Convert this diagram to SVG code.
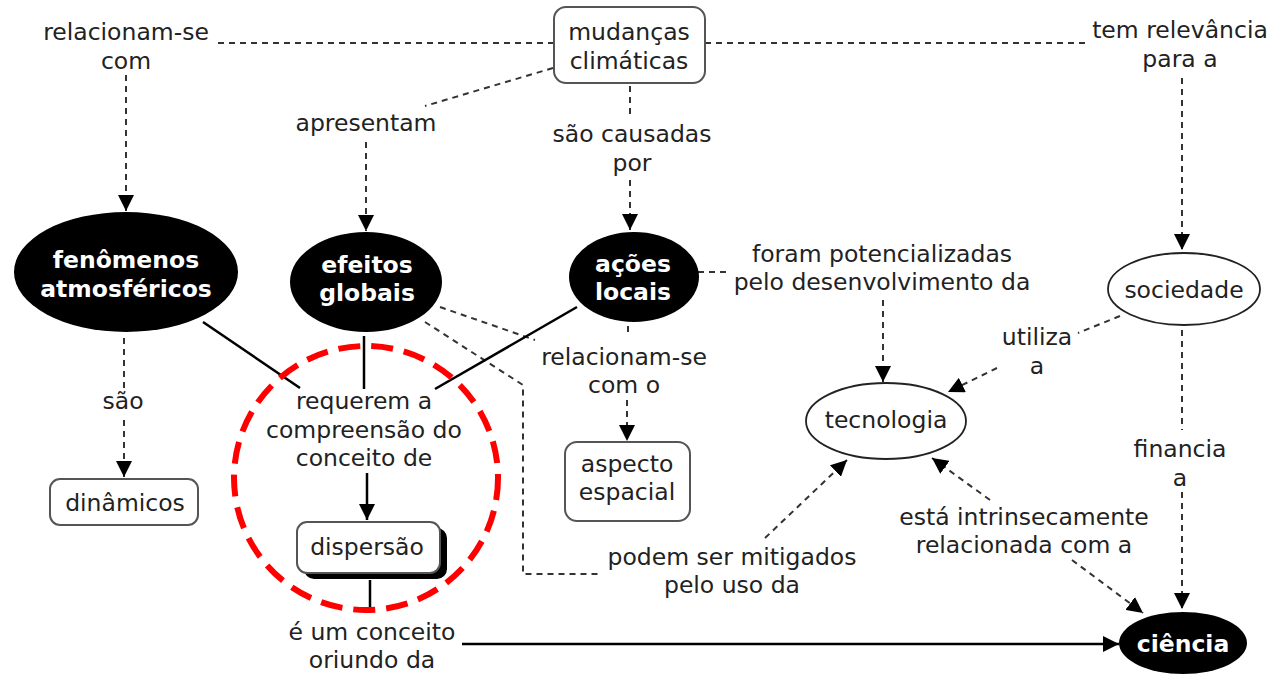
<svg xmlns="http://www.w3.org/2000/svg" width="1281" height="675" viewBox="0 0 1281 675">
<defs>
<marker id="ah" viewBox="0 0 16 16" refX="16" refY="8" markerWidth="16" markerHeight="16" markerUnits="userSpaceOnUse" orient="auto">
<path d="M0,0 L16,8 L0,16 z" fill="#000"/>
</marker>
</defs>
<style>
text{font-family:"DejaVu Sans","Verdana",sans-serif;font-size:23.5px;fill:#222;text-anchor:middle}
.b{font-weight:bold;fill:#fff}
.dash{fill:none;stroke:#333;stroke-width:2;stroke-dasharray:6 5}
.solid{fill:none;stroke:#000;stroke-width:2.5}
.box{fill:#fff;stroke:#555;stroke-width:2}
.dark{fill:#000;stroke:none}
.light{fill:#fff;stroke:#222;stroke-width:1.8}
</style>
<rect width="1281" height="675" fill="#fff"/>
<g id="connectors">
<line class="dash" x1="554" y1="43" x2="218" y2="43"/>
<line class="dash" x1="126" y1="75" x2="126" y2="211" marker-end="url(#ah)"/>
<line class="dash" x1="553" y1="68" x2="425" y2="106"/>
<line class="dash" x1="366" y1="142" x2="366" y2="231" marker-end="url(#ah)"/>
<line class="dash" x1="630" y1="86" x2="630" y2="116"/>
<line class="dash" x1="630" y1="180" x2="630" y2="230" marker-end="url(#ah)"/>
<line class="dash" x1="705" y1="43" x2="1086" y2="43"/>
<line class="dash" x1="1182" y1="78" x2="1182" y2="250" marker-end="url(#ah)"/>
<line class="dash" x1="698" y1="272" x2="728" y2="272"/>
<line class="dash" x1="883" y1="300" x2="883" y2="382" marker-end="url(#ah)"/>
<line class="dash" x1="1120" y1="316" x2="1078" y2="333"/>
<line class="dash" x1="997" y1="368" x2="948" y2="392" marker-end="url(#ah)"/>
<line class="dash" x1="1182" y1="330" x2="1182" y2="430"/>
<line class="dash" x1="1182" y1="492" x2="1182" y2="609" marker-end="url(#ah)"/>
<line class="dash" x1="628" y1="326" x2="628" y2="337"/>
<line class="dash" x1="440" y1="307" x2="535" y2="340"/>
<line class="dash" x1="627" y1="400" x2="627" y2="441" marker-end="url(#ah)"/>
<line class="dash" x1="124" y1="338" x2="124" y2="388"/>
<line class="dash" x1="124" y1="420" x2="124" y2="477" marker-end="url(#ah)"/>
<polyline class="dash" points="425,322 523,385 523,574 598,574"/>
<line class="dash" x1="765" y1="538" x2="847" y2="460" marker-end="url(#ah)"/>
<line class="dash" x1="990" y1="500" x2="932" y2="458" marker-end="url(#ah)"/>
<line class="dash" x1="1072" y1="560" x2="1143" y2="613" marker-end="url(#ah)"/>
<line class="solid" x1="203" y1="322" x2="300" y2="388"/>
<line class="solid" x1="364" y1="336" x2="364" y2="389"/>
<line class="solid" x1="577" y1="307" x2="435" y2="389"/>
<line class="solid" x1="367" y1="473" x2="367" y2="520" marker-end="url(#ah)"/>
<line class="solid" x1="370" y1="580" x2="370" y2="612"/>
<line class="solid" x1="462" y1="644" x2="1119" y2="644" stroke-width="3" marker-end="url(#ah)"/>
</g>
<g id="labels">
<text x="126" y="40">relacionam-se</text>
<text x="126" y="69">com</text>
<text x="366" y="131">apresentam</text>
<text x="632" y="142">são causadas</text>
<text x="632" y="171">por</text>
<text x="1180" y="38">tem relevância</text>
<text x="1180" y="67">para a</text>
<text x="882" y="262">foram potencializadas</text>
<text x="882" y="290">pelo desenvolvimento da</text>
<text x="1037" y="345">utiliza</text>
<text x="1037" y="374">a</text>
<text x="624" y="365">relacionam-se</text>
<text x="624" y="393">com o</text>
<text x="123" y="409">são</text>
<text x="364" y="409">requerem a</text>
<text x="364" y="438">compreensão do</text>
<text x="364" y="466">conceito de</text>
<text x="1180" y="457">financia</text>
<text x="1180" y="486">a</text>
<text x="1024" y="525">está intrinsecamente</text>
<text x="1024" y="553">relacionada com a</text>
<text x="732" y="565">podem ser mitigados</text>
<text x="732" y="593">pelo uso da</text>
<text x="372" y="640">é um conceito</text>
<text x="372" y="668">oriundo da</text>
</g>
<g id="mudancas">
<rect class="box" x="554" y="7" width="151" height="76" rx="12"/>
<text x="629" y="40">mudanças</text>
<text x="629" y="69">climáticas</text>
</g>
<g id="fenomenos">
<ellipse class="dark" cx="126" cy="272" rx="112" ry="60"/>
<text class="b" x="126" y="268">fenômenos</text>
<text class="b" x="126" y="297">atmosféricos</text>
</g>
<g id="efeitos">
<ellipse class="dark" cx="366" cy="282" rx="76" ry="50"/>
<text class="b" x="367" y="273">efeitos</text>
<text class="b" x="367" y="301">globais</text>
</g>
<g id="acoes">
<ellipse class="dark" cx="634" cy="277" rx="65" ry="45"/>
<text class="b" x="633" y="272">ações</text>
<text class="b" x="633" y="300">locais</text>
</g>
<g id="sociedade">
<ellipse class="light" cx="1184" cy="289" rx="76" ry="36"/>
<text x="1184" y="298">sociedade</text>
</g>
<g id="tecnologia">
<ellipse class="light" cx="886" cy="421" rx="80" ry="38"/>
<text x="886" y="428">tecnologia</text>
</g>
<g id="ciencia">
<ellipse class="dark" cx="1183" cy="643" rx="64" ry="31"/>
<text class="b" x="1183" y="652">ciência</text>
</g>
<g id="dinamicos">
<rect class="box" x="50" y="479" width="148" height="46" rx="10"/>
<text x="125" y="511">dinâmicos</text>
</g>
<g id="aspecto">
<rect class="box" x="565" y="442" width="125" height="79" rx="12"/>
<text x="627" y="472">aspecto</text>
<text x="627" y="500">espacial</text>
</g>
<g id="dispersao">
<rect x="304" y="528" width="143" height="51" rx="10" fill="#000"/>
<rect class="box" x="297" y="522" width="143" height="51" rx="10"/>
<text x="367" y="555">dispersão</text>
</g>
<g id="highlight">
<circle cx="366" cy="478" r="132" fill="none" stroke="#f00" stroke-width="6" stroke-dasharray="22 11"/>
</g>
</svg>
